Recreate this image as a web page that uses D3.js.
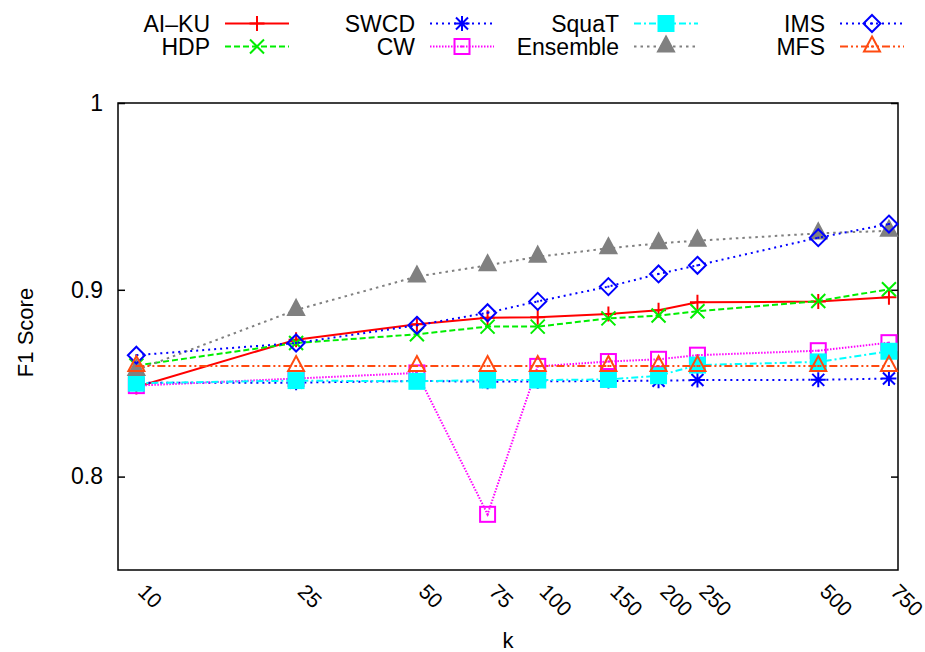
<!DOCTYPE html>
<html>
<head>
<meta charset="utf-8">
<script src="https://cdn.jsdelivr.net/npm/d3@7"></script>
<style>
  body { margin: 0; background: #fff; }
  text { font-family: "Liberation Sans", Arial, Helvetica, sans-serif; }
</style>
</head>
<body>
<script>
var w = 925;
var h = 652;

// x categories (k) and F1 scores per system
var kValues  = [10, 25, 50, 75, 100, 150, 200, 250, 500, 750];
var aiku     = [0.848, 0.8733, 0.8815, 0.885, 0.8853, 0.887, 0.889, 0.8933, 0.8937, 0.896];
var hdp      = [0.8595, 0.8715, 0.8762, 0.8803, 0.8803, 0.8847, 0.8862, 0.8885, 0.894, 0.9003];
var swcd     = [0.8503, 0.8503, 0.8512, 0.8508, 0.851, 0.8512, 0.8513, 0.8517, 0.8518, 0.8525];
var cw       = [0.8487, 0.8525, 0.8555, 0.7798, 0.859, 0.8616, 0.8628, 0.865, 0.8674, 0.8717];
var squat    = [0.850, 0.8514, 0.851, 0.8517, 0.8517, 0.852, 0.854, 0.8597, 0.8614, 0.8671];
var ensemble = [0.857, 0.8892, 0.9071, 0.9131, 0.9177, 0.9222, 0.9249, 0.9263, 0.9302, 0.9316];
var ims      = [0.865, 0.8715, 0.881, 0.8877, 0.8938, 0.9017, 0.9085, 0.9131, 0.9279, 0.9352];
var mfs      = [0.8592, 0.8592, 0.8592, 0.8592, 0.8592, 0.8592, 0.8592, 0.8592, 0.8592, 0.8592];

var seriesNames = ["AI\u2013KU", "HDP", "SWCD", "CW", "SquaT", "Ensemble", "IMS", "MFS"];
var yTicks = [0.8, 0.9, 1];

var series = [
  {name: seriesNames[0], values: aiku,     color: "#ff0000", dash: null,              marker: "plus"},
  {name: seriesNames[1], values: hdp,      color: "#00ee00", dash: "6,3",             marker: "cross"},
  {name: seriesNames[2], values: swcd,     color: "#0000ff", dash: "2,4",             marker: "star"},
  {name: seriesNames[3], values: cw,       color: "#ff00ff", dash: "1.5,1.5",         marker: "square"},
  {name: seriesNames[4], values: squat,    color: "#00ffff", dash: "7,3,2,3",         marker: "fsquare"},
  {name: seriesNames[5], values: ensemble, color: "#808080", dash: "2.5,4",           marker: "ftri"},
  {name: seriesNames[6], values: ims,      color: "#0000ff", dash: "2,4",             marker: "diamond"},
  {name: seriesNames[7], values: mfs,      color: "#ff4a10", dash: "8,3,2,3,2,3",     marker: "tri"}
];

var pLeft = 118, pRight = 898, pTop = 103, pBottom = 570;

var x = d3.scaleLog().domain([9, 790]).range([pLeft, pRight]);
var y = d3.scaleLinear().domain([0.75, 1]).range([pBottom, pTop]);

var svg = d3.select("body")
            .append("svg")
                .attr("width", w)
                .attr("height", h);

// axes
var yAxisL = svg.append("g")
    .attr("transform", "translate(" + pLeft + ",0)")
    .call(d3.axisLeft(y).tickValues(yTicks).tickSize(-7).tickPadding(15).tickFormat(d3.format("")));
var yAxisR = svg.append("g")
    .attr("transform", "translate(" + pRight + ",0)")
    .call(d3.axisRight(y).tickValues(yTicks).tickSize(-7).tickFormat(""));
var xAxis = svg.append("g")
    .attr("transform", "translate(0," + pBottom + ")")
    .call(d3.axisBottom(x).tickValues(kValues).tickSize(0).tickFormat(d3.format("")));

[yAxisL, yAxisR, xAxis].forEach(function(g) {
  g.select(".domain").remove();
  g.selectAll("line").attr("stroke", "#000").attr("stroke-width", 1.5);
  g.selectAll("text").attr("font-size", 23).attr("fill", "#000")
    .attr("font-family", "'Liberation Sans', Arial, sans-serif");
});

xAxis.selectAll("text")
    .attr("font-size", 21)
    .attr("x", 0).attr("y", 0).attr("dy", 0)
    .attr("text-anchor", "start")
    .attr("transform", "translate(0,23) rotate(45)");

svg.append("rect")
    .attr("x", pLeft).attr("y", pTop)
    .attr("width", pRight - pLeft).attr("height", pBottom - pTop)
    .attr("fill", "none").attr("stroke", "#000").attr("stroke-width", 1.5);

svg.append("text")
    .text("F1 Score")
    .attr("transform", "translate(33," + ((pTop + pBottom) / 2 - 4) + ") rotate(-90)")
    .attr("text-anchor", "middle")
    .attr("font-size", 22);

svg.append("text")
    .text("k")
    .attr("x", (pLeft + pRight) / 2)
    .attr("y", 648)
    .attr("text-anchor", "middle")
    .attr("font-size", 22);

// point shapes
function drawMarker(g, type, color) {
  var s = 7.5;
  if (type == "plus") {
    g.append("path").attr("d", "M" + (-s) + ",0H" + s + "M0," + (-s) + "V" + s)
      .attr("stroke", color).attr("stroke-width", 2).attr("fill", "none");
  } else if (type == "cross") {
    g.append("path").attr("d", "M-7,-7L7,7M-7,7L7,-7")
      .attr("stroke", color).attr("stroke-width", 2).attr("fill", "none");
  } else if (type == "star") {
    g.append("path").attr("d", "M-7.5,0H7.5M0,-7.5V7.5M-6,-6L6,6M-6,6L6,-6")
      .attr("stroke", color).attr("stroke-width", 2).attr("fill", "none");
  } else if (type == "square" || type == "fsquare") {
    g.append("rect").attr("x", -7.5).attr("y", -7.5).attr("width", 15).attr("height", 15)
      .attr("stroke", color).attr("stroke-width", 2)
      .attr("fill", type == "fsquare" ? color : "none");
  } else if (type == "tri" || type == "ftri") {
    g.append("path").attr("d", "M0,-10L8,5L-8,5Z")
      .attr("stroke", color).attr("stroke-width", 2)
      .attr("fill", type == "ftri" ? color : "none");
  } else if (type == "diamond") {
    g.append("path").attr("d", "M0,-8.5L8.5,0L0,8.5L-8.5,0Z")
      .attr("stroke", color).attr("stroke-width", 2).attr("fill", "none");
  }
  if (type == "square" || type == "tri" || type == "diamond") {
    g.append("rect").attr("x", -1).attr("y", -1).attr("width", 2).attr("height", 2).attr("fill", color);
  }
}

var line = d3.line()
    .x(function(d, i) { return x(kValues[i]); })
    .y(function(d) { return y(d); });

series.forEach(function(s) {
  var g = svg.append("g");
  g.append("path")
      .attr("d", line(s.values))
      .attr("fill", "none")
      .attr("stroke", s.color)
      .attr("stroke-width", 2)
      .attr("stroke-dasharray", s.dash);
  g.selectAll("g.pt")
      .data(s.values)
      .enter()
      .append("g")
      .attr("class", "pt")
      .attr("transform", function(d, i) { return "translate(" + x(kValues[i]) + "," + y(d) + ")"; })
      .each(function() { drawMarker(d3.select(this), s.marker, s.color); });
});

// legend: 4 columns x 2 rows
var colRight = [210, 415, 619, 825];
var rowY = [23.5, 46.5];

series.forEach(function(s, i) {
  var cx = colRight[Math.floor(i / 2)];
  var cy = rowY[i % 2];
  var g = svg.append("g");
  g.append("text")
      .text(s.name)
      .attr("x", cx)
      .attr("y", cy + 8)
      .attr("text-anchor", "end")
      .attr("font-size", 23);
  g.append("line")
      .attr("x1", cx + 15).attr("x2", cx + 79)
      .attr("y1", cy).attr("y2", cy)
      .attr("stroke", s.color)
      .attr("stroke-width", 2)
      .attr("stroke-dasharray", s.dash);
  var m = g.append("g").attr("transform", "translate(" + (cx + 47) + "," + cy + ")");
  drawMarker(m, s.marker, s.color);
});
</script>
</body>
</html>
